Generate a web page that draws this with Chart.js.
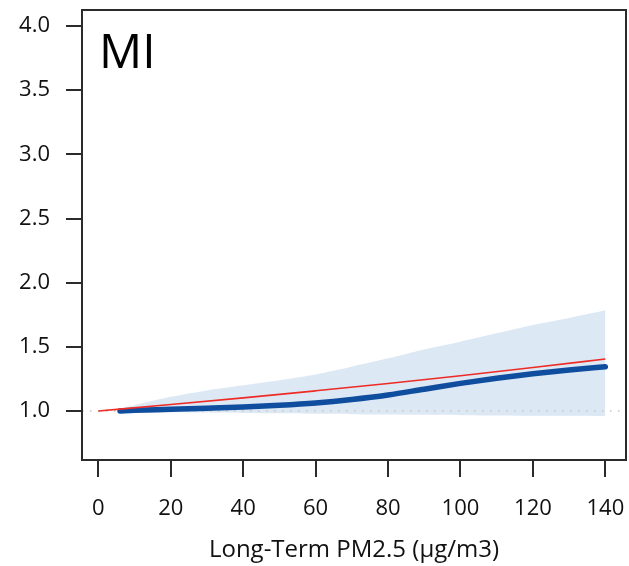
<!DOCTYPE html>
<html>
<head>
<meta charset="utf-8">
<title>MI – Long-Term PM2.5</title>
<script src="https://cdn.jsdelivr.net/npm/chart.js@4/dist/chart.umd.min.js"></script>
<style>
  html, body { margin: 0; padding: 0; background: #fff; }
  #wrap { width: 629px; height: 566px; }
</style>
</head>
<body>
<div id="wrap"><canvas id="miChart" width="629" height="566"></canvas></div>
<script>
// Exposure grid for the fitted curve and its confidence band
const pm = [6, 10, 20, 30, 40, 50, 60, 70, 80, 90, 100, 110, 120, 130, 140];
const rrFit = [1.00, 1.005, 1.013, 1.022, 1.032, 1.045, 1.063, 1.09, 1.125, 1.17, 1.215, 1.255, 1.29, 1.32, 1.345];
const rrUpper = [1.02, 1.045, 1.11, 1.16, 1.20, 1.24, 1.285, 1.345, 1.41, 1.48, 1.54, 1.605, 1.67, 1.725, 1.785];
const rrLower = [0.995, 0.993, 0.99, 0.988, 0.985, 0.982, 0.978, 0.975, 0.972, 0.97, 0.967, 0.965, 0.963, 0.962, 0.96];

// Log-linear reference curve
const linPm = [0, 20, 40, 60, 80, 100, 120, 140];
const linRR = [1.0, 1.05, 1.102, 1.157, 1.214, 1.275, 1.339, 1.405];

// Null line (RR = 1) across the panel
const nullPm = [-4.5, 145.7];
const nullRR = [1.0, 1.0];

const xTicks = [0, 20, 40, 60, 80, 100, 120, 140];
const yTicks = [1.0, 1.5, 2.0, 2.5, 3.0, 3.5, 4.0];

const panelLabel = 'MI';
const xTitle = 'Long-Term PM2.5 (\u03bcg/m3)';

const FONT = '"Open Sans", "Noto Sans", sans-serif';
const INK = '#2b2b2b';

const pts = (xs, ys) => xs.map((x, i) => ({ x: x, y: ys[i] }));

// box around the plot area + panel letter
const panelFrame = {
    id: 'panelFrame',
    afterDraw(chart) {
        const { ctx, chartArea: a } = chart;
        ctx.save();
        ctx.strokeStyle = INK;
        ctx.lineWidth = 2;
        ctx.strokeRect(a.left, a.top, a.right - a.left, a.bottom - a.top);
        ctx.fillStyle = '#000';
        ctx.font = '48px ' + FONT;
        ctx.textBaseline = 'alphabetic';
        ctx.textAlign = 'left';
        ctx.fillText(panelLabel, a.left + 17, a.top + 58);
        ctx.restore();
    }
};

// datasets listed top-most first (Chart.js paints index 0 last)
new Chart(document.getElementById('miChart'), {
    type: 'line',
    data: {
        datasets: [
            {
                label: 'linear',
                data: pts(linPm, linRR),
                borderColor: '#ee2b25',
                borderWidth: 1.6,
                pointRadius: 0,
                fill: false,
                cubicInterpolationMode: 'monotone'
            },
            {
                label: 'fit',
                data: pts(pm, rrFit),
                borderColor: '#0f4d9e',
                borderWidth: 5.5,
                borderCapStyle: 'round',
                pointRadius: 0,
                fill: false,
                cubicInterpolationMode: 'monotone'
            },
            {
                label: 'null',
                data: pts(nullPm, nullRR),
                borderColor: '#c4c4c4',
                borderWidth: 1.5,
                borderDash: [1.5, 6.5],
                pointRadius: 0,
                fill: false
            },
            {
                label: 'upper',
                data: pts(pm, rrUpper),
                borderWidth: 0,
                pointRadius: 0,
                backgroundColor: '#dde8f5',
                fill: '+1',
                tension: 0.2
            },
            {
                label: 'lower',
                data: pts(pm, rrLower),
                borderWidth: 0,
                pointRadius: 0,
                fill: false,
                tension: 0.2
            }
        ]
    },
    plugins: [panelFrame],
    options: {
        responsive: false,
        animation: false,
        layout: { padding: { top: 10, right: 3, left: 0, bottom: 0 } },
        plugins: {
            legend: { display: false },
            tooltip: { enabled: false }
        },
        scales: {
            x: {
                type: 'linear',
                min: -4.5,
                max: 145.7,
                afterBuildTicks: s => { s.ticks = xTicks.map(v => ({ value: v })); },
                afterFit: s => {
                    s.height = 106;
                    s.paddingLeft = 0;
                    s.paddingRight = 0;
                },
                border: { display: true, color: INK, width: 2 },
                grid: { drawOnChartArea: false, drawTicks: true, tickLength: 17, color: INK, lineWidth: 2 },
                ticks: {
                    padding: 19,
                    color: '#111',
                    font: { family: FONT, size: 22 },
                    maxRotation: 0,
                    callback: v => String(v)
                },
                title: {
                    display: true,
                    text: xTitle,
                    color: '#111',
                    font: { family: FONT, size: 24 },
                    padding: { top: 0, bottom: 1 }
                }
            },
            y: {
                type: 'linear',
                min: 0.618,
                max: 4.125,
                afterBuildTicks: s => { s.ticks = yTicks.map(v => ({ value: v })); },
                afterFit: s => {
                    s.width = 82;
                    s.paddingTop = 0;
                    s.paddingBottom = 0;
                },
                border: { display: true, color: INK, width: 2 },
                grid: { drawOnChartArea: false, drawTicks: true, tickLength: 16, color: INK, lineWidth: 2 },
                ticks: {
                    padding: 16,
                    color: '#111',
                    font: { family: FONT, size: 22 },
                    callback: v => v.toFixed(1)
                }
            }
        }
    }
});
</script>
</body>
</html>
